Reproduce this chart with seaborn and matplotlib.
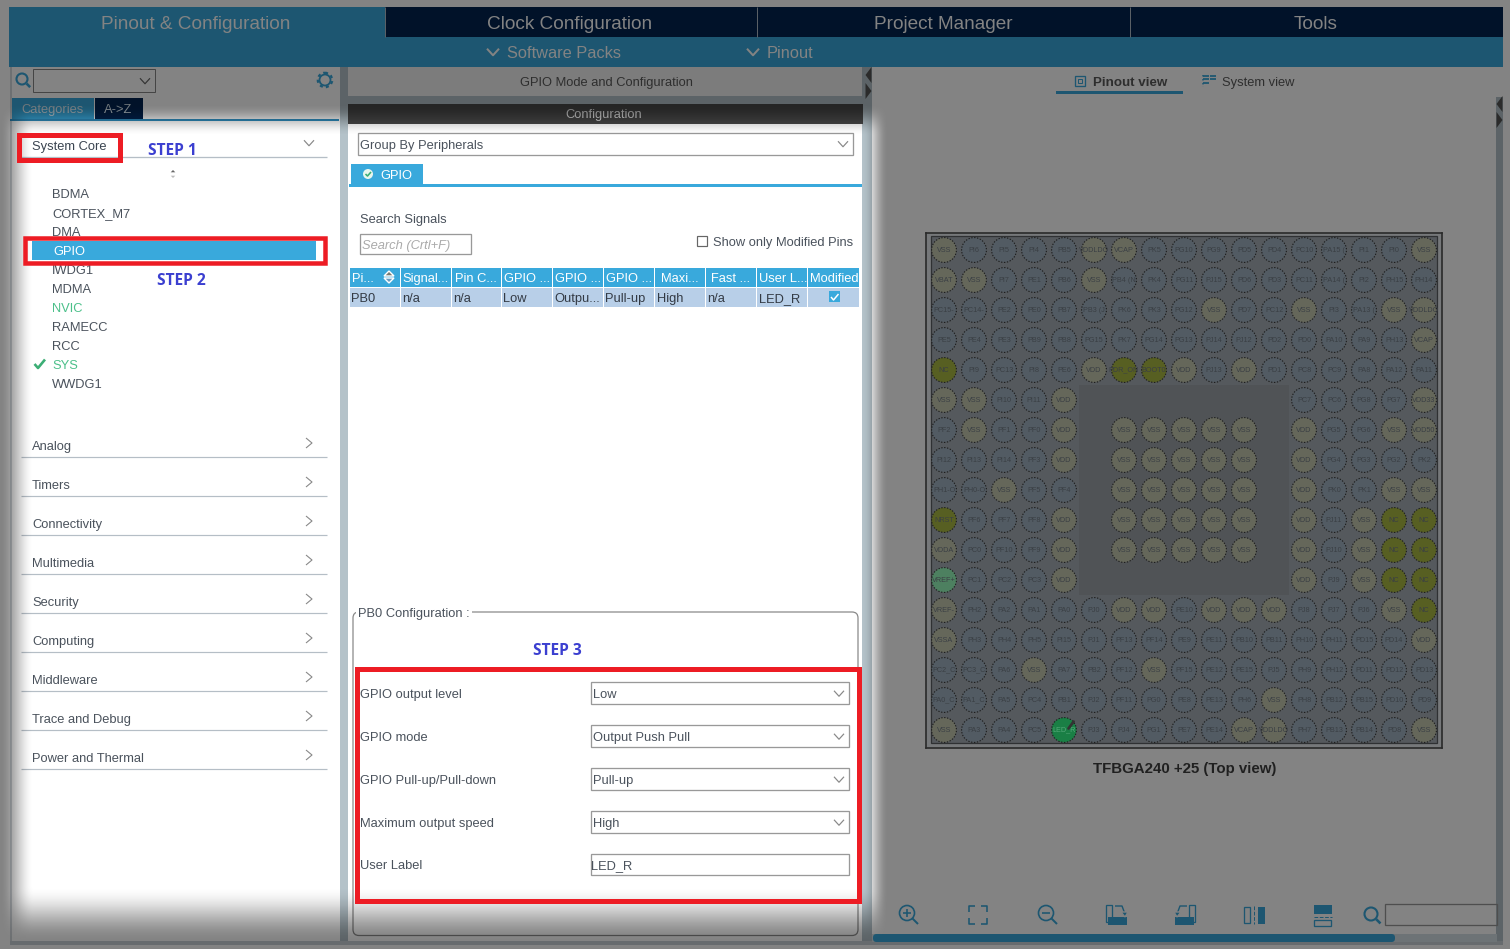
import numpy as np
import pandas as pd
import matplotlib
matplotlib.use("Agg")
import matplotlib.pyplot as plt
from matplotlib.patches import Rectangle, FancyBboxPatch, Circle, Polygon
import seaborn as sns

# ---------- content ----------
MAIN_TABS = ["Pinout & Configuration", "Clock Configuration", "Project Manager", "Tools"]
SUB_TABS = ["Software Packs", "Pinout"]
SYSTEM_ITEMS = ["BDMA", "CORTEX_M7", "DMA", "GPIO", "IWDG1", "MDMA", "NVIC", "RAMECC", "RCC", "SYS", "WWDG1"]
GREEN_ITEMS = ["NVIC", "SYS"]
SECTIONS = ["Analog", "Timers", "Connectivity", "Multimedia", "Security", "Computing",
            "Middleware", "Trace and Debug", "Power and Thermal"]
TABLE_HEAD = ["Pi...", "Signal...", "Pin C...", "GPIO ...", "GPIO ...", "GPIO ...",
              "Maxi...", "Fast ...", "User L...", "Modified"]
TABLE_ROW = ["PB0", "n/a", "n/a", "Low", "Outpu...", "Pull-up", "High", "n/a", "LED_R", ""]
FORM_LABELS = ["GPIO output level", "GPIO mode", "GPIO Pull-up/Pull-down", "Maximum output speed", "User Label"]
FORM_VALUES = ["Low", "Output Push Pull", "Pull-up", "High", "LED_R"]
GAP = None
VSS5 = ["VSS", "VSS", "VSS", "VSS", "VSS"]
PIN_ROWS = [
    ["VSS","PI6","PI5","PI4","PB5","VDDLDO","VCAP","PK5","PG10","PG9","PD5","PD4","PC10","PA15 (","PI1","PI0","VSS"],
    ["VBAT","VSS","PI7","PE1","PB6","VSS","PB4 (N","PK4","PG11","PJ15","PD6","PD3","PC11","PA14 (","PI2","PH15","PH14"],
    ["PC15-","PC14-","PE2","PE0","PB7","PB3 (J","PK6","PK3","PG12","VSS","PD7","PC12","VSS","PI3","PA13 (","VSS","VDDLDO"],
    ["PE5","PE4","PE3","PB9","PB8","PG15","PK7","PG14","PG13","PJ14","PJ12","PD2","PD0","PA10","PA9","PH13","VCAP"],
    ["NC","PI9","PC13","PI8","PE6","VDD","PDR_ON","BOOT0","VDD","PJ13","VDD","PD1","PC8","PC9","PA8","PA12","PA11"],
    ["VSS","VSS","PI10","PI11","VDD"]+[GAP]*7+["PC7","PC6","PG8","PG7","VDD33"],
    ["PF2","VSS","PF1","PF0","VDD",GAP]+VSS5+[GAP,"VDD","PG5","PG6","VSS","VDD50"],
    ["PI12","PI13","PI14","PF3","VDD",GAP]+VSS5+[GAP,"VDD","PG4","PG3","PG2","PK2"],
    ["PH1-O","PH0-O","VSS","PF5","PF4",GAP]+VSS5+[GAP,"VDD","PK0","PK1","VSS","VSS"],
    ["NRST","PF6","PF7","PF8","VDD",GAP]+VSS5+[GAP,"VDD","PJ11","VSS","NC","NC"],
    ["VDDA","PC0","PF10","PF9","VDD",GAP]+VSS5+[GAP,"VDD","PJ10","VSS","NC","NC"],
    ["VREF+","PC1","PC2","PC3","VDD"]+[GAP]*7+["VDD","PJ9","VSS","NC","NC"],
    ["VREF-","PH2","PA2","PA1","PA0","PJ0","VDD","VDD","PE10","VDD","VDD","VDD","PJ8","PJ7","PJ6","VSS","NC"],
    ["VSSA","PH3","PH4","PH5","PI15","PJ1","PF13","PF14","PE9","PE11","PB10","PB11","PH10","PH11","PD15","PD14","VDD"],
    ["PC2_C","PC3_C","PA6","VSS","PA7","PB2","PF12","VSS","PF15","PE12","PE15","PJ5","PH9","PH12","PD11","PD12","PD13"],
    ["PA0_C","PA1_C","PA5","PC4","PB1","PJ2","PF11","PG0","PE8","PE13","PH6","VSS","PH8","PB12","PB15","PD10","PD9"],
    ["VSS","PA3","PA4","PC5","LED_R","PJ3","PJ4","PG1","PE7","PE14","VCAP","VDDLDO","PH7","PB13","PB14","PD8","VSS"],
]
POWER = {"VSS","VDD","VBAT","VCAP","VDDLDO","VDD33","VDD50","VSSA","VDDA","VREF-"}
OLIVE = {"NC","NRST","PDR_ON","BOOT0"}

BLUE = "#39a9dc"; DARK = "#022350"; TXT = "#4a525c"; GUT = "#b4c2c9"; RED = "#ed1c24"; STEP = "#3b3fd0"
FS = 12.9

sns.set_theme(style="white")
plt.rcParams["font.family"] = ["Liberation Sans", "DejaVu Sans"]

fig = plt.figure(figsize=(15.10, 9.49), dpi=100, facecolor="white")
ax = fig.add_axes([0, 0, 1, 1], zorder=0)
ax.set_xlim(0, 1510); ax.set_ylim(949, 0); ax.axis("off")

def rect(a, x0, y0, x1, y1, fc="none", ec="none", lw=0.0, z=1):
    a.add_patch(Rectangle((x0-0.5, y0-0.5), x1-x0, y1-y0, fc=fc, ec=ec, lw=lw*0.72, zorder=z))
def txt(a, x, y, s, px=FS, c=TXT, ha="left", z=3, **k):
    a.text(x, y+0.36*px, s, fontsize=px*0.72, color=c, ha=ha, va="baseline", zorder=z, **k)
def line(a, xs, ys, c="#777777", lw=1.0, z=2, **k):
    a.plot(xs, ys, color=c, lw=lw*0.72, zorder=z, solid_capstyle="butt", **k)
def chev_down(a, x, y, c="#777777", w=5, lw=1.2):
    line(a, [x-w, x, x+w], [y-w*0.55, y+w*0.55, y-w*0.55], c, lw)
def chev_right(a, x, y, c="#777777"):
    line(a, [x-3, x+3, x-3], [y-5, y, y+5], c, 1.1)
def search(a, x, y, c=BLUE, r=5.5):
    a.add_patch(Circle((x-1, y-1), r, fc="none", ec=c, lw=1.5, zorder=3))
    line(a, [x+r*0.65, x+r*1.3], [y+r*0.65, y+r*1.3], c, 2.6, z=3)

# ---------- base UI ----------
rect(ax, 9, 7, 1503, 67, BLUE)
rect(ax, 385, 7, 1503, 37, DARK)
for xs in (385, 757, 1130):
    line(ax, [xs, xs], [7, 37], "#b0bcc8", 1)
for t, x in zip(MAIN_TABS, (196, 570, 943, 1316)):
    txt(ax, x, 22.5, t, 19, "white", ha="center")
for t, x, cx in zip(SUB_TABS, (507, 767), (493, 753)):
    txt(ax, x, 52.5, t, 16.4, "white")
    chev_down(ax, cx, 52, "white", 6, 2)

# gutters
rect(ax, 340, 67, 348, 943, GUT)
rect(ax, 862, 67, 872, 943, GUT)
rect(ax, 1496, 97, 1503, 943, GUT)
rect(ax, 10, 941, 1503, 945, "#c9d0d6")
rect(ax, 10, 67, 12, 941, "#d5dadf")
for x0, ys in ((872, (75, 91)), (1503, (104, 120))):
    for i, yy in enumerate(ys):
        d = -6 if i == 0 else 6
        ax.add_patch(Polygon([[x0-7+(3.5-d/2), yy-8], [x0-7+(3.5-d/2), yy+8], [x0-7+3.5+d/2, yy]],
                             fc="#555555", ec="none", zorder=3))

# left toolbar
search(ax, 23, 80)
rect(ax, 33.5, 69.5, 155.5, 92.5, "white", "#888888", 1)
chev_down(ax, 145, 81, "#666666")
ax.add_patch(Circle((325, 80), 5.5, fc="none", ec=BLUE, lw=1.3, zorder=3))
ax.add_patch(Circle((325, 80), 7.2, fc="none", ec=BLUE, lw=1.6, ls=(0, (1.4, 1.4)), zorder=3))
rect(ax, 12, 98, 94, 119, BLUE)
rect(ax, 95, 98, 143, 119, DARK)
rect(ax, 10, 119, 339, 121.5, "#2f8fc0")
txt(ax, 21, 108.5, "Categories", FS, "#d8e6ee")
txt(ax, 104, 108.5, "A->Z", FS, "#d8e6ee")

# left list
txt(ax, 32, 145, "System Core", FS, "#3a4450")
line(ax, [21, 327], [157, 157], "#b5bec6", 1.3)
chev_down(ax, 309, 143, "#888888", 5)
ax.add_patch(Polygon([[169, 173], [177, 173], [173, 169]], fc="#666666", zorder=3))
ax.add_patch(Polygon([[169, 175], [177, 175], [173, 179]], fc="#bbbbbb", zorder=3))
rect(ax, 32, 241, 316, 260.5, BLUE)
for i, name in enumerate(SYSTEM_ITEMS):
    col = "white" if name == "GPIO" else ("#4cc08a" if name in GREEN_ITEMS else TXT)
    txt(ax, 53 if name == "GPIO" else 52, 193 + 19*i, name, FS, col)
line(ax, [34.5, 38, 45], [364, 368, 359.5], "#3cae75", 2.6, z=3)
for i, s in enumerate(SECTIONS):
    y = 445 + 39*i
    txt(ax, 32, y, s, FS, TXT)
    line(ax, [21, 327], [y+12, y+12], "#b5bec6", 1.2)
    chev_right(ax, 309, y-2, "#888888")

# middle header
rect(ax, 348, 67, 862, 96, "#f2f2f2")
rect(ax, 348, 96, 862, 104, GUT)
txt(ax, 606, 81.5, "GPIO Mode and Configuration", FS, "#5a5a5a", ha="center")
rect(ax, 348, 104, 863, 124, "#484848")
txt(ax, 604, 113.5, "Configuration", FS, "#e8e8e8", ha="center")

# config
rect(ax, 358.5, 133.5, 853.5, 155.5, "white", "#999999", 1.3)
txt(ax, 360, 144.5, "Group By Peripherals", FS, TXT)
chev_down(ax, 843, 144, "#888888")
rect(ax, 351, 164, 423, 184, BLUE)
rect(ax, 349, 184, 862, 187.5, BLUE)
ax.add_patch(Circle((368, 174), 5, fc="#e8f6ee", ec="none", zorder=3))
line(ax, [365.5, 367.5, 371], [174, 176, 172], "#3cae75", 1.6, z=4)
txt(ax, 380, 174.5, "GPIO", FS, "white")
txt(ax, 360, 218.5, "Search Signals", FS, TXT)
rect(ax, 360.5, 234.5, 471.5, 254.5, "white", "#999999", 1.3)
txt(ax, 362, 244.5, "Search (Crtl+F)", FS, "#aaaaaa", style="italic")
rect(ax, 697.5, 236.5, 707.5, 246.5, "white", "#666666", 1.2)
txt(ax, 713, 241.5, "Show only Modified Pins", FS, TXT)

# table
COL_EDGES = [350, 401, 452, 502, 553, 604, 655, 706, 757, 808, 860]
HEAD_DX = [2, 1, 3, 2, 2, 2, 6, 5, 2, 2]
for i, (h, v) in enumerate(zip(TABLE_HEAD, TABLE_ROW)):
    x0, x1 = COL_EDGES[i], COL_EDGES[i+1]
    rect(ax, x0+0.5, 268, x1-0.5, 287.5, BLUE)
    rect(ax, x0+0.5, 288, x1-0.5, 307, "#b8cfe8")
    txt(ax, x0+HEAD_DX[i], 277.5, h, FS, "white")
    txt(ax, x0+1.5, 297.5, v, FS, "#333a44")
ax.add_patch(Polygon([[384, 276], [394, 276], [389, 271]], fc="#7a7a70", zorder=4))
ax.add_patch(Polygon([[384, 278], [394, 278], [389, 283]], fc="#6a9cc0", zorder=4))
rect(ax, 829.5, 291.5, 840.5, 302.5, BLUE)
line(ax, [831, 833.5, 838.5], [297, 300, 294], "white", 1.5, z=4)

# PB0 box
ax.add_patch(FancyBboxPatch((353, 612), 505, 323.5, boxstyle="round,pad=0,rounding_size=6",
                            fc="white", ec="#8a8a8a", lw=0.9, zorder=1))
rect(ax, 356, 605, 472, 620, "white", z=1.5)
txt(ax, 358, 612.5, "PB0 Configuration :", FS, TXT)
for i, (lb, v) in enumerate(zip(FORM_LABELS, FORM_VALUES)):
    y = 693.5 + 43*i if i < 4 else 864.5
    txt(ax, 360, y, lb, FS, TXT)
    h = 11 if i < 4 else 10.5
    rect(ax, 591.5, y-h, 849.5, y+h, "white", "#999999", 1.3)
    txt(ax, 593 if i < 4 else 591.5, y, v, FS, TXT)
    if i < 4:
        chev_down(ax, 839, y, "#888888")

# right panel
txt(ax, 1093, 81.5, "Pinout view", 13.4, "#5a5a5a", weight="bold")
txt(ax, 1222, 81.5, "System view", FS, "#5a5a5a")
rect(ax, 1056, 91, 1183, 94, BLUE)
rect(ax, 1075.5, 76.5, 1085.5, 86.5, "none", BLUE, 1.3, z=3)
rect(ax, 1078.5, 79.5, 1082.5, 83.5, "none", BLUE, 1, z=3)
for k in range(3):
    line(ax, [1203, 1209], [75.5+3.5*k]*2, BLUE, 1.8)
line(ax, [1203, 1203], [75, 87], BLUE, 1.5, ls=":")
for k in range(2):
    line(ax, [1210, 1216], [75.5+3.5*k]*2, BLUE, 1.8)
txt(ax, 1184.5, 768, "TFBGA240 +25 (Top view)", 15, "#404040", ha="center", weight="bold")

# bottom icons
ax.add_patch(Circle((907, 913), 7.5, fc="none", ec=BLUE, lw=1.2, zorder=3))
line(ax, [912.5, 918], [918.5, 924], BLUE, 2); line(ax, [903, 911], [913, 913], BLUE, 1.6); line(ax, [907, 907], [909, 917], BLUE, 1.6)
ax.add_patch(Circle((1046, 913), 7.5, fc="none", ec=BLUE, lw=1.2, zorder=3))
line(ax, [1051.5, 1057], [918.5, 924], BLUE, 2); line(ax, [1042, 1050], [913, 913], BLUE, 1.6)
for dx, dy in ((-1, -1), (1, -1), (-1, 1), (1, 1)):
    cx, cy = 978 + dx*9, 915 + dy*9
    line(ax, [cx, cx, cx-dx*6], [cy-dy*6, cy, cy], BLUE, 1.6)
rect(ax, 1106.5, 905.5, 1112.5, 922, "none", BLUE, 1.3)
rect(ax, 1108, 917, 1127, 925, BLUE)
line(ax, [1115, 1122, 1125], [906, 906, 914], BLUE, 1.4)
ax.add_patch(Polygon([[1121, 912], [1128, 912], [1125, 917]], fc=BLUE, zorder=3))
rect(ax, 1189.5, 905.5, 1195.5, 922, "none", BLUE, 1.3)
rect(ax, 1175, 917, 1194, 925, BLUE)
line(ax, [1187, 1180, 1177], [906, 906, 914], BLUE, 1.4)
ax.add_patch(Polygon([[1174, 912], [1181, 912], [1177, 917]], fc=BLUE, zorder=3))
rect(ax, 1244.5, 907.5, 1250.5, 923, "none", BLUE, 1.3)
line(ax, [1254, 1254], [906, 924], BLUE, 1, ls="--")
rect(ax, 1258, 907, 1265, 924, BLUE)
rect(ax, 1314, 905, 1332, 914, BLUE)
line(ax, [1314, 1332], [917, 917], BLUE, 1, ls="--")
rect(ax, 1314.5, 920.5, 1331.5, 926, "none", BLUE, 1.3)
search(ax, 1372, 915, BLUE, 6.5)
rect(ax, 1385.5, 904.5, 1497, 925.5, "none", "#999999", 1.3)
rect(ax, 872, 934, 1497, 942, "#d5e0e6", z=1.5)
ax.add_patch(FancyBboxPatch((873, 934), 522, 8, boxstyle="round,pad=0,rounding_size=3.5",
                            fc=BLUE, ec="none", zorder=2))

# ---------- dimming overlay with soft spotlight ----------
ovl = fig.add_axes([0, 0, 1, 1], zorder=2, facecolor="none")
def smooth(u, a, b):
    t = np.clip((u-a)/(b-a), 0, 1)
    return t*t*(3-2*t)
X = np.arange(1510) + 0.5
Y = np.arange(949) + 0.5
sx = smooth(X, 0, 34) * (1 - smooth(X, 862, 888))
sy = smooth(Y, 104, 136) * (1 - smooth(Y, 886, 942))
spot = np.outer(sy, sx)
rgba = np.zeros((949, 1510, 4))
rgba[..., 3] = 0.49 * (1 - spot)
ovl.imshow(rgba, extent=(0, 1510, 949, 0), aspect="auto", interpolation="bilinear", zorder=1)
ovl.set_xlim(0, 1510); ovl.set_ylim(949, 0); ovl.axis("off")

# annotations above the overlay
rect(ovl, 19.5, 135.5, 120.5, 160.5, "none", RED, 5, z=5)
rect(ovl, 25.5, 238.5, 325.5, 263, "none", RED, 4.5, z=5)
rect(ovl, 357.5, 669.5, 859.5, 901.5, "none", RED, 5, z=5)
for s, x, y in (("STEP 1", 148, 151), ("STEP 2", 157, 281), ("STEP 3", 533, 651)):
    ovl.text(x, y, s, fontsize=15.5*0.72, color=STEP, weight="bold", ha="left", va="center",
             family=["Open Sans", "DejaVu Sans"], zorder=6)

# ---------- chip (through seaborn), already in its dimmed colours ----------
CHIP_L, CHIP_T, CHIP_R, CHIP_B = 926, 233, 1442, 748
axc = fig.add_axes([CHIP_L/1510, 1-CHIP_B/949, (CHIP_R-CHIP_L)/1510, (CHIP_B-CHIP_T)/949],
                   zorder=3, facecolor="#76787a")
rows, cols, names, kinds = [], [], [], []
for r, row in enumerate(PIN_ROWS):
    for c, n in enumerate(row):
        if n is None:
            continue
        rows.append(r); cols.append(c); names.append(n)
        kinds.append("power" if n in POWER else "olive" if n in OLIVE else
                     "vref" if n == "VREF+" else "led" if n == "LED_R" else "signal")
pins = pd.DataFrame({"row": rows, "col": cols, "name": names, "kind": kinds})
PALETTE = {"signal": "#525b63", "power": "#65675a", "olive": "#575f22", "vref": "#4d8060", "led": "#1a7f45"}
sns.scatterplot(data=pins, x="col", y="row", hue="kind", palette=PALETTE, s=320, ax=axc, legend=False,
                edgecolor="#1c1c1c", linewidth=0.8, linestyle=(0, (1.2, 1.4)), zorder=3)
axc.set_xlim((CHIP_L-944)/30, (CHIP_R-944)/30)
axc.set_ylim((CHIP_B-250)/30, (CHIP_T-250)/30)
axc.set_xticks([]); axc.set_yticks([]); axc.set_xlabel(""); axc.set_ylabel("")
for s in axc.spines.values():
    s.set_color("#2a2a2a"); s.set_linewidth(1.2); s.set_visible(True)
axc.add_patch(Rectangle((-0.43, -0.47), 16.86, 16.9, fc="#55595d", ec="#2f3133", lw=0.9, zorder=1))
axc.add_patch(Rectangle((4.5, 4.5), 7.0, 7.0, fc="#505356", ec="none", zorder=1.5))
for p in pins.itertuples():
    axc.text(p.col, p.row, p.name, ha="center", va="center", fontsize=5.2, zorder=4, clip_on=True,
             color="#55a87a" if p.name == "LED_R" else "#3a3f44")
axc.plot([4.15, 4.32], [15.95, 15.72], color="#333333", lw=2, zorder=5)

fig.savefig("out.png", dpi=100, facecolor="white")
